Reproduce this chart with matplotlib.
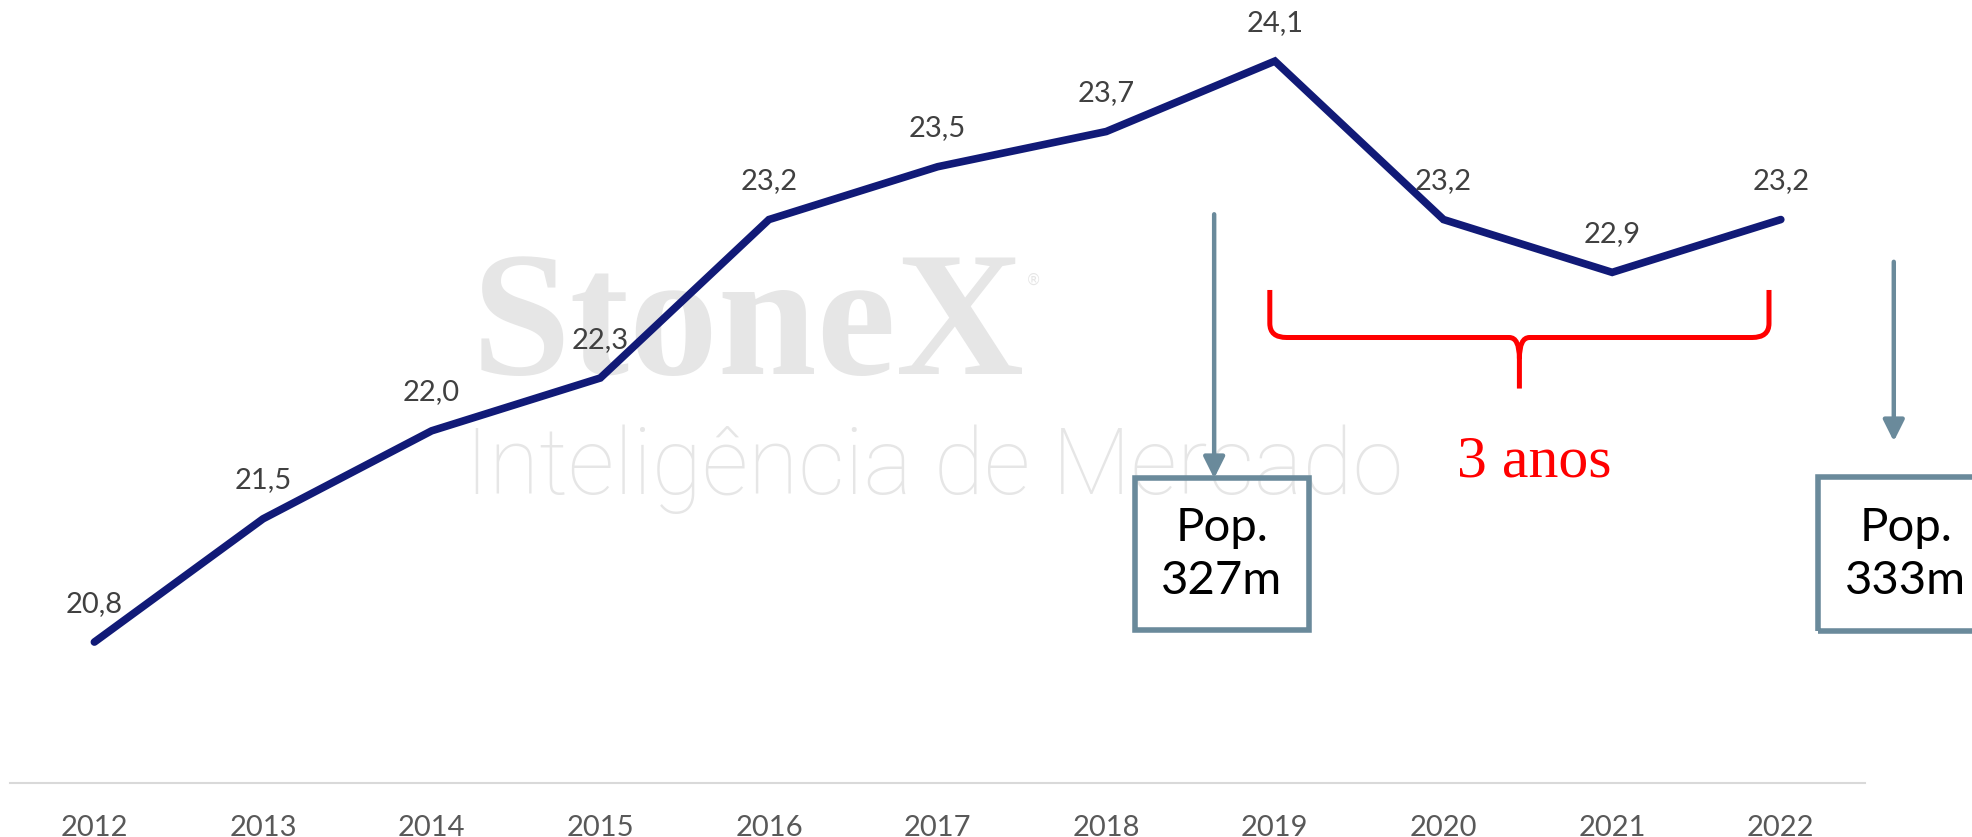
import matplotlib
matplotlib.use("Agg")
import matplotlib.pyplot as plt
from matplotlib.patches import Rectangle, PathPatch
from matplotlib.path import Path

anos = ["2012", "2013", "2014", "2015", "2016", "2017", "2018", "2019", "2020", "2021", "2022"]
valores = [20.8, 21.5, 22.0, 22.3, 23.2, 23.5, 23.7, 24.1, 23.2, 22.9, 23.2]
rotulos = ["20,8", "21,5", "22,0", "22,3", "23,2", "23,5", "23,7", "24,1", "23,2", "22,9", "23,2"]
caixas = ["Pop.\n327m", "Pop.\n333m"]

AZUL = "#111a77"
CINZA_SETA = "#6a8a9b"
FONTE = ["Lato", "DejaVu Sans"]

fig = plt.figure(figsize=(19.72, 8.375), dpi=100)
ax = fig.add_axes([0.0051, 0.0646, 0.9407, 0.9354])
ax.patch.set_alpha(0)

# marca d'água
fig.text(0.239, 0.554, "StoneX", family="Liberation Serif", weight="bold",
         fontsize=128, color="#e6e6e6", zorder=-1)
fig.text(0.520, 0.660, "®", family="DejaVu Sans", fontsize=11, color="#e6e6e6", zorder=-1)
fig.text(0.236, 0.410, "Inteligência de Mercado", family=["Roboto", "DejaVu Sans"], weight="light",
         fontsize=66, color="#e6e6e6", zorder=-1)

x = list(range(len(anos)))
ax.plot(x, valores, color=AZUL, lw=5.5, solid_capstyle="round", solid_joinstyle="miter", zorder=3)
for xi, v, r in zip(x, valores, rotulos):
    ax.annotate(r, (xi, v), xytext=(0, 28), textcoords="offset points",
                ha="center", va="center", fontsize=21, color="#404040", family=FONTE)

ax.set_xlim(-0.5, len(anos) - 0.5)
ax.set_ylim(20, 24.45)
ax.set_xticks(x)
ax.set_xticklabels(anos, fontsize=21, color="#595959", family=FONTE)
ax.tick_params(axis="x", length=0, pad=23)
ax.set_yticks([])
for s in ["top", "right", "left"]:
    ax.spines[s].set_visible(False)
ax.spines["bottom"].set_color("#d9d9d9")
ax.spines["bottom"].set_linewidth(1.5)

# setas + caixas de população
setas = [(6.64, 23.23, 21.73), (10.67, 22.96, 21.94)]
for sx, y0, y1 in setas:
    ax.annotate("", xy=(sx, y1), xytext=(sx, y0),
                arrowprops=dict(arrowstyle="-|>", color=CINZA_SETA, lw=3.2,
                                mutation_scale=32, shrinkA=0, shrinkB=0),
                annotation_clip=False)

pos_caixas = [(6.17, 20.87, 1.03, 0.86), (10.22, 20.86, 1.0, 0.88)]
centros = [6.685, 10.74]
for (bx, by, bw, bh), cx, txt in zip(pos_caixas, centros, caixas):
    ax.add_patch(Rectangle((bx, by), bw, bh, fill=False, edgecolor=CINZA_SETA,
                           lw=4, clip_on=False, zorder=4))
    ax.text(cx, by + bh / 2, txt, ha="center", va="center",
            fontsize=34, color="black", family=FONTE, linespacing=1.35, clip_on=False)

# chave vermelha "3 anos"
xa, xb, xm = 6.97, 9.93, 8.45
yt, yh, yp = 22.80, 22.53, 22.24
verts = [
    (xa, yt), (xa, yh + 0.08), (xa, yh), (xa + 0.10, yh),
    (xm - 0.06, yh), (xm, yh), (xm, yh - 0.12), (xm, yp),
    (xm, yh - 0.12), (xm, yh), (xm + 0.06, yh),
    (xb - 0.10, yh), (xb, yh), (xb, yh + 0.08), (xb, yt),
]
codes = [Path.MOVETO, Path.LINETO, Path.CURVE3, Path.CURVE3,
         Path.LINETO, Path.CURVE3, Path.CURVE3, Path.LINETO,
         Path.MOVETO, Path.CURVE3, Path.CURVE3,
         Path.LINETO, Path.CURVE3, Path.CURVE3, Path.LINETO]
ax.add_patch(PathPatch(Path(verts, codes), fill=False, edgecolor="#ff0000", lw=3.6,
                       capstyle="butt", zorder=4))
ax.text(8.54, 21.82, "3 anos", ha="center", va="center", fontsize=43,
        color="#ff0000", family="Liberation Serif")

fig.savefig("out.png", dpi=100)
